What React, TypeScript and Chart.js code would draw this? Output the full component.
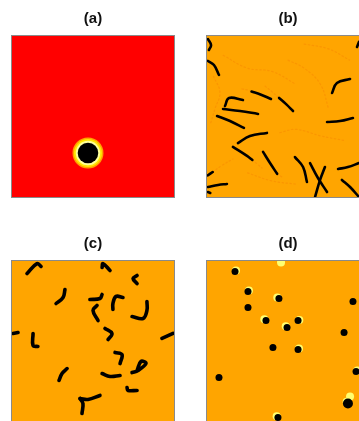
import React, { useEffect, useRef } from 'react';
import { Chart, registerables } from 'chart.js';

Chart.register(...registerables);

// ---------- data (panel coordinates, 0..100 in both directions, y measured from top) ----------
const PANEL_TITLES = ['(a)', '(b)', '(c)', '(d)'];

// (a) single droplet
const A_DROPLET: [number, number][] = [[46.9, 72.7]];

// (b) elongated worms
const B_WORMS: [number, number][][] = [
  [[0.6, 1.9], [2.5, 5.6], [1.2, 8.7]],
  [[0.6, 15.5], [4.3, 18], [7.4, 24.2]],
  [[27.5, 34.5], [33, 36.3], [39.5, 39.1]],
  [[44.5, 38.5], [49, 42.5], [53.1, 46.6]],
  [[11.1, 43.5], [13.6, 38.5], [22.2, 39.8]],
  [[9.9, 45.3], [20.4, 46.6], [31.5, 48.4]],
  [[6.2, 49.7], [14.2, 52.8], [22.8, 57.1]],
  [[19.1, 66.5], [26.5, 62.1], [37, 60.2]],
  [[16, 68.9], [24.7, 74.5], [28, 77]],
  [[34.6, 72], [38.9, 78.9], [43.3, 85.6]],
  [[54.3, 75.2], [59.3, 81.4], [61.7, 90.7]],
  [[63.6, 78.9], [68.5, 88.2], [74.1, 96.9]],
  [[72.8, 81.4], [69.8, 89.4], [66.7, 100]],
  [[0.6, 86.5], [3.5, 84.5]],
  [[0.6, 93.8], [6.8, 92.5], [12.3, 91.9]],
  [[0.6, 96.9], [2, 97.5]],
  [[77.2, 35.4], [80.2, 29.2], [88.3, 26.7]],
  [[74.1, 53.4], [82.1, 52.8], [90.1, 50.9]],
  [[80.9, 82.6], [87, 81.4], [93.8, 78.9]],
  [[83.3, 89.4], [88.3, 93.8], [93.8, 100]],
  [[92.6, 6.8], [93.8, 3.7]],
];

// (b) faint dotted trails
const B_TRAILS: [number, number][][] = [
  [[21.6, 32.9], [25, 33.5], [27.5, 34.5]],
  [[35.8, 31.1], [40, 34.5], [44.5, 38.5]],
  [[28, 77], [31, 79.5], [34, 82]],
  [[3.5, 84.5], [9, 80.5], [16, 76.4]],
  [[43.3, 85.6], [46.3, 87.6]],
  [[4, 25], [8, 35], [5, 45], [2, 55]],
  [[10, 12], [25, 20], [40, 22], [55, 30]],
  [[45, 60], [55, 58], [70, 62], [85, 65]],
  [[50, 15], [60, 20], [70, 30], [75, 45]],
  [[60, 5], [75, 8], [88, 15]],
  [[25, 85], [40, 90], [55, 92]],
];

// (c) short curled worms
const C_WORMS: [number, number][][] = [
  [[9.3, 7.8], [15.4, 1.6], [17.9, 3.4]],
  [[55.6, 4], [56.2, 1.6], [60.5, 5.9]],
  [[77.2, 9], [74.7, 10.9], [77.2, 14]],
  [[32.7, 17.7], [31.5, 22.7], [27.2, 26.4]],
  [[48.1, 23.9], [54.3, 23.3], [55.6, 20.8]],
  [[68.5, 22.7], [64.2, 22], [62.3, 26.4], [62.3, 30.1]],
  [[52.5, 27.6], [50, 30.7], [53.1, 37]],
  [[83.3, 25.2], [83.3, 30.7], [80.9, 35.7], [74.1, 34.5]],
  [[0.6, 45], [3.7, 44.4]],
  [[13, 45], [13, 52.5], [16, 53.1]],
  [[57.4, 41.9], [61.7, 45], [59.3, 48.8]],
  [[92.6, 48.1], [99.4, 45]],
  [[63.6, 56.8], [67.9, 58.1], [66.7, 63.7]],
  [[74.1, 69.3], [77.8, 68], [82.7, 63.7], [79.6, 62.4], [77.2, 68]],
  [[34, 66.8], [30.9, 69.9], [29, 74.2]],
  [[55.6, 69.9], [60.5, 71.7], [66.7, 71.1]],
  [[71, 78.6], [71.6, 80.4], [77.2, 80.4]],
  [[42, 85.4], [46.9, 86], [54.3, 83.5]],
  [[42, 85.4], [43.8, 88.5], [43.2, 94.7]],
];

// (d) compact spots
const D_SPOTS: [number, number][] = [
  [17.3, 6.5], [25.3, 18.9], [44.4, 23.3], [25.3, 28.9], [36.4, 37],
  [49.4, 41.3], [56.2, 37], [90.1, 25.2], [84.6, 44.4], [40.7, 53.7],
  [56.2, 55], [7.4, 72.4], [92, 68.6], [43.8, 97.2],
];
const D_LARGE_SPOTS: [number, number][] = [[87, 88.5]];
const D_HALOS: [number, number][] = [
  [43.4, 22.6], [35.4, 36.2], [48.6, 40.6], [57, 36.6], [17.9, 5.9], [25.9, 18.3],
  [92.8, 68], [86.2, 87.4], [43, 96.4], [45.7, 0.9], [88.3, 84.2], [56.8, 54.4],
];

// ---------- helpers ----------
const pts = (arr: [number, number][]) => arr.map(([x, y]) => ({ x, y }));

const worm = (arr: [number, number][], width: number, color = '#000000', dash: number[] = []) => ({
  type: 'line' as const,
  data: pts(arr),
  showLine: true,
  borderColor: color,
  borderWidth: width,
  borderDash: dash,
  borderCapStyle: 'round' as const,
  borderJoinStyle: 'round' as const,
  tension: 0.4,
  pointRadius: 0,
  clip: 0,
});

const spots = (arr: [number, number][], radius: number, color: string) => ({
  type: 'scatter' as const,
  data: pts(arr),
  pointRadius: radius,
  pointBackgroundColor: color,
  pointBorderWidth: 0,
  pointBorderColor: color,
  clip: 0,
});

// Chart.js paints the first dataset last (on top), so the lists are top-most first.
function datasetsFor(i: number): any[] {
  if (i === 0) {
    return [
      spots(A_DROPLET, 10.3, '#000000'),
      spots(A_DROPLET, 12.2, '#ffff9a'),
      spots(A_DROPLET, 14, '#ffe600'),
      spots(A_DROPLET, 15.5, '#ffa000'),
    ];
  }
  if (i === 1) {
    return [
      ...B_WORMS.map((w) => worm(w, 2.6)),
      ...B_TRAILS.map((t) => worm(t, 1.2, 'rgba(235,100,0,0.22)', [1.5, 2.5])),
    ];
  }
  if (i === 2) {
    return C_WORMS.map((w) => worm(w, 3.6));
  }
  return [
    spots(D_LARGE_SPOTS, 5, '#000000'),
    spots(D_SPOTS, 3.5, '#000000'),
    spots(D_HALOS, 4, '#ffff70'),
  ];
}

const PANEL_BG = ['#ff0000', '#ffa500', '#ffa500', '#ffa500'];

const panelPlugin = (bg: string) => ({
  id: 'panelFrame',
  beforeDatasetsDraw(chart: any) {
    const { ctx, chartArea: a } = chart;
    ctx.save();
    ctx.fillStyle = bg;
    ctx.fillRect(a.left, a.top, a.right - a.left, a.bottom - a.top);
    ctx.restore();
  },
  afterDraw(chart: any) {
    const { ctx, chartArea: a } = chart;
    ctx.save();
    ctx.strokeStyle = '#8a8a8a';
    ctx.lineWidth = 1;
    ctx.strokeRect(a.left - 0.5, a.top - 0.5, a.right - a.left + 1, a.bottom - a.top + 1);
    ctx.restore();
  },
});

function Panel({ index, left, top }: { index: number; left: number; top: number }) {
  const ref = useRef<HTMLCanvasElement | null>(null);
  useEffect(() => {
    if (!ref.current) return;
    const chart = new Chart(ref.current, {
      type: 'scatter',
      data: { datasets: datasetsFor(index) },
      options: {
        animation: false,
        responsive: false,
        events: [],
        layout: { autoPadding: false, padding: { left: 12, right: 12, top: 0, bottom: 13 } },
        plugins: {
          legend: { display: false },
          tooltip: { enabled: false },
          title: {
            display: true,
            text: PANEL_TITLES[index],
            color: '#111111',
            font: { family: "'Liberation Sans', Arial, sans-serif", size: 15, weight: 'bold', lineHeight: 1.2 },
            padding: { top: 9.5, bottom: 8.5 },
          },
        },
        scales: {
          x: { type: 'linear', min: 0, max: 100, display: false },
          y: { type: 'linear', min: 0, max: 100, reverse: true, display: false },
        },
      } as any,
      plugins: [panelPlugin(PANEL_BG[index])],
    });
    return () => chart.destroy();
  }, [index]);
  return (
    <canvas
      ref={ref}
      width={186}
      height={210}
      style={{ position: 'absolute', left, top, width: 186, height: 210 }}
    />
  );
}

export default function App() {
  return (
    <div
      style={{
        position: 'fixed',
        left: 0,
        top: 0,
        width: 359,
        height: 421,
        overflow: 'hidden',
        background: '#ffffff',
      }}
    >
      <Panel index={0} left={0} top={0} />
      <Panel index={1} left={195} top={0} />
      <Panel index={2} left={0} top={224.5} />
      <Panel index={3} left={195} top={224.5} />
    </div>
  );
}
